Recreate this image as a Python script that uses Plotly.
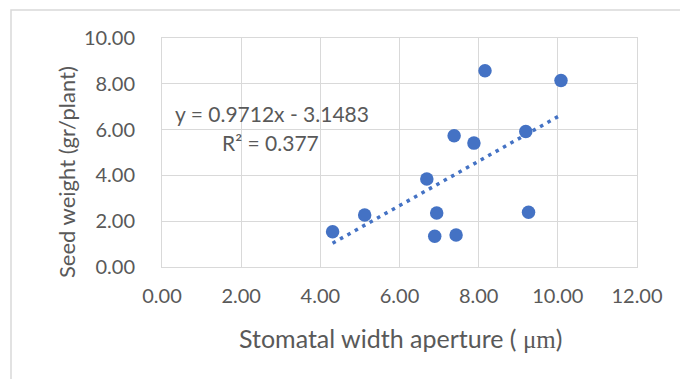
import plotly.graph_objects as go

# Data
stomatal_width = [4.31, 5.12, 6.69, 6.94, 6.89, 7.43, 7.38, 7.88, 8.16, 9.19, 9.26, 10.08]
seed_weight = [1.54, 2.27, 3.84, 2.36, 1.34, 1.40, 5.73, 5.41, 8.57, 5.92, 2.39, 8.14]

slope = 0.9712
intercept = -3.1483
r_squared = 0.377

x_ticks = [0, 2, 4, 6, 8, 10, 12]
y_ticks = [0, 2, 4, 6, 8, 10]

BLUE = "#4472C4"
GRAY_TXT = "#595959"
GRID = "#D9D9D9"
FONT = "Lato"

W, H = 680, 379
ML, MR, MT, MB = 162, 43, 38, 112
pw = W - ML - MR
ph = H - MT - MB


def px_x(p):
    return (p - ML) / pw


def px_y(p):
    return (H - MB - p) / ph


trend_x = [min(stomatal_width), max(stomatal_width)]
trend_y = [slope * v + intercept for v in trend_x]

fig = go.Figure()
fig.add_trace(go.Scatter(
    x=trend_x, y=trend_y, mode="lines",
    line=dict(color=BLUE, width=3.5, dash="3.5px,5px"),
    hoverinfo="skip", showlegend=False,
))
fig.add_trace(go.Scatter(
    x=stomatal_width, y=seed_weight, mode="markers",
    marker=dict(color=BLUE, size=13.5, line=dict(width=0)),
    showlegend=False,
))

fig.update_layout(
    width=W, height=H,
    margin=dict(l=ML, r=MR, t=MT, b=MB),
    paper_bgcolor="white", plot_bgcolor="white",
    font=dict(family=FONT, color=GRAY_TXT, size=20),
    showlegend=False,
    xaxis=dict(
        range=[0, 12], tickvals=x_ticks,
        ticktext=[f"{v:.2f}" for v in x_ticks],
        showgrid=True, gridcolor=GRID, gridwidth=1,
        zeroline=False, showline=True, linecolor=GRID, linewidth=1, mirror=True,
        ticks="", ticklabelstandoff=11,
        tickfont=dict(family=FONT, size=20, color=GRAY_TXT),
    ),
    yaxis=dict(
        range=[0, 10], tickvals=y_ticks,
        ticktext=[f"{v:.2f}" for v in y_ticks],
        showgrid=True, gridcolor=GRID, gridwidth=1,
        zeroline=False, showline=True, linecolor=GRID, linewidth=1, mirror=True,
        ticks="", ticklabelstandoff=22,
        tickfont=dict(family=FONT, size=20, color=GRAY_TXT),
    ),
    annotations=[
        dict(text=f"y = {slope}x - {abs(intercept)}", x=2.78, y=6.70,
             xref="x", yref="y", showarrow=False, xanchor="center", yanchor="middle",
             font=dict(family=FONT, size=21, color=GRAY_TXT)),
        dict(text=f"R² = {r_squared}", x=2.75, y=5.44,
             xref="x", yref="y", showarrow=False, xanchor="center", yanchor="middle",
             font=dict(family=FONT, size=21, color=GRAY_TXT)),
        dict(text="Stomatal width aperture ( <span style='font-family:Liberation Serif'>μm</span>)",
             x=px_x(400), y=px_y(338), xref="paper", yref="paper", showarrow=False,
             xanchor="center", yanchor="middle",
             font=dict(family=FONT, size=25, color=GRAY_TXT)),
        dict(text="Seed weight (gr/plant)", textangle=-90,
             x=px_x(66), y=px_y(172), xref="paper", yref="paper", showarrow=False,
             xanchor="center", yanchor="middle",
             font=dict(family=FONT, size=22, color=GRAY_TXT)),
    ],
    shapes=[
        dict(type="rect", xref="paper", yref="paper",
             x0=px_x(11), x1=px_x(700), y0=px_y(420), y1=px_y(10),
             line=dict(color=GRID, width=1.5), fillcolor="rgba(0,0,0,0)", layer="below"),
    ],
)

fig.write_html("out.html", config={"displayModeBar": False},
               post_script="document.body.style.margin='0';")
